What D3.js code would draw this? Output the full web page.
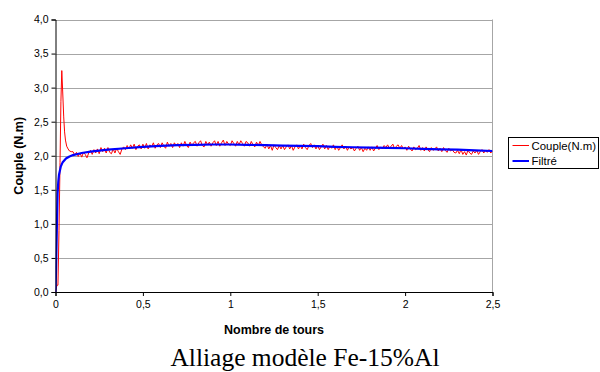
<!DOCTYPE html>
<html><head><meta charset="utf-8">
<script src="https://cdn.jsdelivr.net/npm/d3@7"></script>
<style>body{margin:0;background:#fff}svg{display:block}text{font-family:"Liberation Sans",Arial,sans-serif}</style>
</head><body><svg id="c" width="600" height="372"></svg>
<script>
const title = "Alliage modèle Fe-15%Al";
const xLabel = "Nombre de tours";
const yLabel = "Couple (N.m)";
const seriesNames = ["Couple(N.m)", "Filtré"];
const xTicks = [0, 0.5, 1, 1.5, 2, 2.5];
const xTickLabels = ["0", "0,5", "1", "1,5", "2", "2,5"];
const yTicks = [0, 0.5, 1, 1.5, 2, 2.5, 3, 3.5, 4];
const yTickLabels = ["0,0", "0,5", "1,0", "1,5", "2,0", "2,5", "3,0", "3,5", "4,0"];

// Raw torque: start-up transient (x, y) pairs
const rawStartX = [0, 0.008, 0.014, 0.02, 0.026, 0.031, 0.036, 0.041, 0.047, 0.052, 0.057, 0.064, 0.072, 0.08, 0.09];
const rawStartY = [0.0, 0.1, 0.1, 0.9, 1.9, 2.8, 3.25, 2.95, 2.57, 2.35, 2.23, 2.14, 2.1, 2.07, 2.06];
// Raw torque: steady part, read every 0.01 tour from 0.10 to 2.50
const rawSteadyStart = 0.10, rawSteadyStep = 0.01;
const rawSteadyY = [
 2.06,2.01,2.05,1.99,2.04,1.98,2.05,2.02,1.97,2.04,
 2.08,2.02,2.09,2.04,2.10,2.03,2.12,2.06,2.11,2.04,
 2.12,2.05,2.03,2.10,2.04,2.11,2.06,2.02,2.10,2.13,
 2.09,2.15,2.10,2.16,2.11,2.17,2.09,2.14,2.16,2.10,
 2.17,2.11,2.18,2.10,2.16,2.13,2.19,2.11,2.16,2.18,
 2.12,2.19,2.14,2.11,2.20,2.14,2.18,2.12,2.19,2.15,
 2.18,2.12,2.19,2.14,2.21,2.15,2.12,2.20,2.15,2.19,
 2.21,2.14,2.19,2.22,2.15,2.13,2.21,2.16,2.20,2.14,
 2.19,2.22,2.15,2.21,2.14,2.19,2.23,2.15,2.21,2.17,
 2.15,2.22,2.18,2.14,2.21,2.16,2.22,2.18,2.14,2.21,
 2.19,2.14,2.21,2.16,2.13,2.20,2.15,2.21,2.16,2.13,
 2.11,2.17,2.10,2.15,2.08,2.16,2.12,2.09,2.15,2.10,
 2.15,2.09,2.13,2.16,2.10,2.15,2.08,2.13,2.16,2.10,
 2.15,2.10,2.17,2.12,2.09,2.15,2.18,2.12,2.16,2.10,
 2.15,2.09,2.13,2.17,2.10,2.15,2.09,2.14,2.11,2.16,
 2.09,2.14,2.08,2.12,2.16,2.10,2.14,2.08,2.13,2.10,
 2.12,2.07,2.11,2.14,2.08,2.12,2.06,2.11,2.08,2.13,
 2.08,2.13,2.07,2.11,2.15,2.09,2.13,2.10,2.15,2.12,
 2.16,2.11,2.14,2.17,2.10,2.14,2.16,2.11,2.15,2.10,
 2.13,2.08,2.14,2.10,2.07,2.13,2.09,2.11,2.15,2.08,
 2.12,2.07,2.13,2.09,2.06,2.12,2.08,2.10,2.13,2.07,
 2.11,2.06,2.12,2.08,2.05,2.11,2.07,2.09,2.05,2.04,
 2.08,2.03,2.09,2.02,2.06,2.01,2.08,2.04,2.02,2.07,
 2.04,2.08,2.02,2.06,2.09,2.04,2.08,2.05,2.09,2.04,
 2.07];
// Filtered torque
const filtX = [0, 0.003, 0.006, 0.009, 0.012, 0.016, 0.02, 0.03, 0.04, 0.06, 0.08, 0.1, 0.15, 0.2, 0.3, 0.4, 0.5, 0.6, 0.7, 0.8, 0.9, 1.0, 1.1, 1.2, 1.3, 1.4, 1.5, 1.6, 1.7, 1.8, 1.9, 2.0, 2.1, 2.2, 2.3, 2.4, 2.5];
const filtY = [0, 0.3, 0.7, 1.1, 1.45, 1.62, 1.72, 1.84, 1.9, 1.96, 1.99, 2.01, 2.04, 2.06, 2.09, 2.11, 2.13, 2.145, 2.155, 2.16, 2.165, 2.165, 2.16, 2.155, 2.15, 2.145, 2.14, 2.13, 2.125, 2.12, 2.115, 2.11, 2.1, 2.095, 2.09, 2.08, 2.07];

const rawPts = rawStartX.map((x, i) => [x, rawStartY[i]])
  .concat(rawSteadyY.map((y, i) => [rawSteadyStart + i * rawSteadyStep, y]));
const filtPts = filtX.map((x, i) => [x, filtY[i]]);

const svg = d3.select("#c");
const L = 55.5, R = 492.5, T = 19.5, B = 292;
const x = d3.scaleLinear().domain([0, 2.5]).range([L, R]);
const y = d3.scaleLinear().domain([0, 4]).range([B, T]);

// grid
svg.append("g").selectAll("line").data(yTicks.filter(d => d > 0)).join("line")
  .attr("x1", L).attr("x2", R).attr("y1", d => Math.round(y(d)) + 0.5).attr("y2", d => Math.round(y(d)) + 0.5)
  .attr("stroke", "#a6a6a6").attr("stroke-width", 1);
svg.append("line").attr("x1", R).attr("x2", R).attr("y1", T).attr("y2", B)
  .attr("stroke", "#a6a6a6");

svg.append("clipPath").attr("id", "pc").append("rect")
  .attr("x", L).attr("y", T - 2).attr("width", R - L).attr("height", B - T + 2);
const line = d3.line().x(d => x(d[0])).y(d => y(d[1]));
const g = svg.append("g").attr("clip-path", "url(#pc)");
g.append("path").datum(rawPts).attr("d", line).attr("fill", "none").attr("stroke", "#ff0000").attr("stroke-width", 1);
g.append("path").datum(filtPts).attr("d", line).attr("fill", "none").attr("stroke", "#0000ff").attr("stroke-width", 2.2).attr("stroke-linejoin", "round");

// axes
const yAxis = d3.axisLeft(y).tickValues(yTicks).tickFormat((d, i) => yTickLabels[i]).tickSize(4).tickPadding(3);
const ya = svg.append("g").attr("transform", `translate(${L},0)`).call(yAxis);
const xAxis = d3.axisBottom(x).tickValues(xTicks).tickFormat((d, i) => xTickLabels[i]).tickSize(4).tickPadding(5);
const xa = svg.append("g").attr("transform", `translate(0,${B})`).call(xAxis);
[ya, xa].forEach(a => {
  a.select(".domain").attr("stroke", "#000");
  a.selectAll(".tick line").attr("stroke", "#000");
  a.selectAll(".tick text").attr("font-size", 10.5).attr("fill", "#000").style("font-family", "Liberation Sans, Arial, sans-serif");
});

svg.append("text").attr("x", (L + R) / 2).attr("y", 334).attr("text-anchor", "middle")
  .attr("font-size", 12.5).attr("font-weight", "bold").text(xLabel);
svg.append("text").attr("transform", `translate(23,${(T + B) / 2}) rotate(-90)`).attr("text-anchor", "middle")
  .attr("font-size", 12.5).attr("font-weight", "bold").text(yLabel);

svg.append("text").attr("x", 305).attr("y", 365.5).attr("text-anchor", "middle")
  .style("font-family", "'Liberation Serif','Times New Roman',serif").attr("font-size", 25.5).text(title);

// legend
const lg = svg.append("g");
lg.append("rect").attr("x", 508.5).attr("y", 137.5).attr("width", 90).attr("height", 31)
  .attr("fill", "#fff").attr("stroke", "#000");
const colors = ["#ff0000", "#0000ff"];
const widths = [1, 2];
seriesNames.forEach((n, i) => {
  const yy = 145.5 + i * 15.5;
  lg.append("line").attr("x1", 512.5).attr("x2", 529).attr("y1", yy).attr("y2", yy)
    .attr("stroke", colors[i]).attr("stroke-width", widths[i]);
  lg.append("text").attr("x", 531.5).attr("y", yy + 4).attr("font-size", 11.4).text(n);
});
</script></body></html>
